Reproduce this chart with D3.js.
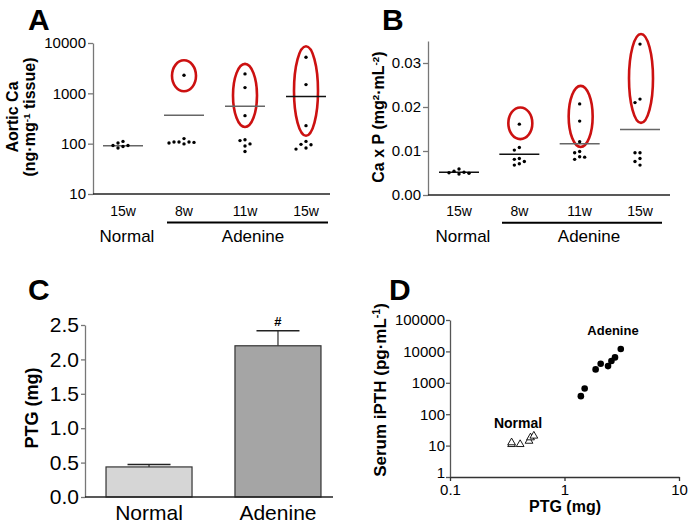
<!DOCTYPE html>
<html><head><meta charset="utf-8">
<script src="https://cdn.jsdelivr.net/npm/d3@7"></script>
<style>
body{margin:0;background:#fff;}
svg{display:block;font-family:Arial,"Liberation Sans",Helvetica,sans-serif;}
</style></head>
<body><svg id="c" width="688" height="526"></svg>
<script>
// ---------- DATA ----------
const groupsAB = ["N15","A8","A11","A15"];
const weekLabels = ["15w","8w","11w","15w"];
// Panel A: aortic Ca (ng/mg tissue)
const aorticN15 = [111,103,92,82,88,92];
const aorticA8  = [2280,126,108,103,99,106,108,108];
const aorticA11 = [2430,1300,360,115,120,99,90,70];
const aorticA15 = [5200,1490,228,111,95,97,78,82];
const aorticMean = [91,365,552,870];
const aorticCircleLow  = [null,1100,215,144];
const aorticCircleHigh = [null,4530,3850,8590];
const aorticTicks = [10,100,1000,10000];
// Panel B: Ca x P
const caxpN15 = [0.00539,0.00507,0.00477,0.00493,0.00516,0.00591];
const caxpA8  = [0.0161,0.0102,0.0108,0.0083,0.0081,0.0076,0.0068,0.0071];
const caxpA11 = [0.0207,0.0168,0.0121,0.0099,0.0096,0.0087,0.0081,0.0086];
const caxpA15 = [0.0343,0.0218,0.0210,0.0096,0.0096,0.0083,0.0076,0.0068];
const caxpMean = [0.00516,0.00925,0.01166,0.0149];
const caxpCircleLow  = [null,0.0127,0.0109,0.0164];
const caxpCircleHigh = [null,0.0199,0.0248,0.0366];
const caxpTicks = [0,0.01,0.02,0.03];
// Panel C: PTG weight
const ptgGroups = ["Normal","Adenine"];
const ptgMean = [0.437,2.198];
const ptgSem = [0.035,0.218];
const ptgTicks = [0,0.5,1.0,1.5,2.0,2.5];
// Panel D: PTG vs serum iPTH
const normalPTG  = [0.345,0.345,0.41,0.49,0.505,0.54];
const normalIPTH = [11,12.5,11,14,18,20.4];
const adeninePTG  = [1.39,1.50,1.87,2.07,2.40,2.57,2.76,3.10];
const adenineIPTH = [376,660,2670,4040,3400,4920,6450,11900];
const dXTicks = [0.1,1,10];
const dYTicks = [1,10,100,1000,10000,100000];

// ---------- HELPERS ----------
const svg = d3.select("#c");
const RED = "#cc1111";
function swarm(vals, yS, cx, step, minD){
  const order = vals.map((v,i)=>i).sort((a,b)=>vals[b]-vals[a]);
  const placed=[];
  order.forEach(i=>{
    const py=yS(vals[i]);
    for(let k=0;k<40;k++){
      const s = k===0?0:(k%2? -Math.ceil(k/2):Math.ceil(k/2));
      const px=cx+s*step;
      if(placed.every(p=>Math.hypot(p.x-px,p.y-py)>=minD)){placed.push({x:px,y:py});break;}
    }
  });
  return placed;
}
function styleAxis(g, col, fs){
  g.attr("font-family",null).attr("font-size",fs);
  g.select(".domain").attr("stroke",col).attr("stroke-width",1.3);
  g.selectAll(".tick line").attr("stroke",col).attr("stroke-width",1.3);
  g.selectAll(".tick text").attr("fill","#000");
}
function sup(t, parts){
  parts.forEach(p=>{
    const ts=t.append("tspan").text(p[0]);
    if(p[1]==="sup") ts.attr("font-size","0.62em").attr("dy","-0.55em");
    if(p[1]==="back") ts.attr("dy","0.34em");
  });
}

// ---------- PANEL A ----------
{
  const yA = d3.scaleLog().domain([10,10000]).range([194,43]);
  const xA = d3.scalePoint().domain(groupsAB).range([123,306]);
  const data = [aorticN15,aorticA8,aorticA11,aorticA15];
  const g = svg.append("g");
  const ax = g.append("g").attr("transform","translate(93,0)")
    .call(d3.axisLeft(yA).tickValues(aorticTicks).tickFormat(d3.format("d")).tickSize(5).tickPadding(2).tickSizeOuter(0));
  styleAxis(ax,"#777",15);
  g.append("line").attr("x1",93).attr("x2",330).attr("y1",yA(10)).attr("y2",yA(10)).attr("stroke","#222").attr("stroke-width",1.3);
  groupsAB.forEach((grp,i)=>{
    const cx=xA(grp);
    if(aorticCircleLow[i]!==null){
      const y1=yA(aorticCircleHigh[i]), y2=yA(aorticCircleLow[i]);
      g.append("ellipse").attr("cx",cx).attr("cy",(y1+y2)/2).attr("rx",12).attr("ry",(y2-y1)/2)
        .attr("fill","none").attr("stroke",RED).attr("stroke-width",2.6);
    }
    g.append("line").attr("x1",cx-20).attr("x2",cx+20).attr("y1",yA(aorticMean[i])).attr("y2",yA(aorticMean[i]))
      .attr("stroke",i===3?"#111":"#666").attr("stroke-width",1.5);
    g.selectAll(null).data(swarm(data[i],yA,cx,5,4.8)).enter().append("circle")
      .attr("cx",d=>d.x).attr("cy",d=>d.y).attr("r",1.7).attr("fill","#000");
    g.append("text").attr("x",cx).attr("y",216).attr("text-anchor","middle").attr("font-size",14).text(weekLabels[i]);
  });
  g.append("line").attr("x1",167).attr("x2",328).attr("y1",222.5).attr("y2",222.5).attr("stroke","#000").attr("stroke-width",2);
  g.append("text").attr("x",127).attr("y",242).attr("text-anchor","middle").attr("font-size",17).text("Normal");
  g.append("text").attr("x",253).attr("y",242).attr("text-anchor","middle").attr("font-size",17).text("Adenine");
  g.append("text").attr("x",28).attr("y",30).attr("font-size",30).attr("font-weight","bold").text("A");
  g.append("text").attr("transform","translate(18,117) rotate(-90)").attr("text-anchor","middle")
    .attr("font-size",16).attr("font-weight","bold").text("Aortic Ca");
  const l2=g.append("text").attr("transform","translate(35,117) rotate(-90)").attr("text-anchor","middle")
    .attr("font-size",16).attr("font-weight","bold");
  sup(l2,[["(ng·mg"],["-1","sup"],[" tissue)","back"]]);
}

// ---------- PANEL B ----------
{
  const yB = d3.scaleLinear().domain([0,0.035]).range([195,41]);
  const xB = d3.scalePoint().domain(groupsAB).range([459,640]);
  const data = [caxpN15,caxpA8,caxpA11,caxpA15];
  const g = svg.append("g");
  const ax = g.append("g").attr("transform","translate(428,0)")
    .call(d3.axisLeft(yB).tickValues(caxpTicks).tickFormat(d3.format(".2f")).tickSize(5).tickPadding(2).tickSizeOuter(0));
  styleAxis(ax,"#777",15);
  g.append("line").attr("x1",428).attr("x2",670).attr("y1",yB(0)).attr("y2",yB(0)).attr("stroke","#222").attr("stroke-width",1.3);
  groupsAB.forEach((grp,i)=>{
    const cx=xB(grp);
    if(caxpCircleLow[i]!==null){
      const y1=yB(caxpCircleHigh[i]), y2=yB(caxpCircleLow[i]);
      g.append("ellipse").attr("cx",cx+1).attr("cy",(y1+y2)/2).attr("rx",12).attr("ry",(y2-y1)/2)
        .attr("fill","none").attr("stroke",RED).attr("stroke-width",2.6);
    }
    g.append("line").attr("x1",cx-20).attr("x2",cx+20).attr("y1",yB(caxpMean[i])).attr("y2",yB(caxpMean[i]))
      .attr("stroke",i<2?"#111":"#666").attr("stroke-width",1.5);
    g.selectAll(null).data(swarm(data[i],yB,cx,5,4.8)).enter().append("circle")
      .attr("cx",d=>d.x).attr("cy",d=>d.y).attr("r",1.7).attr("fill","#000");
    g.append("text").attr("x",cx).attr("y",216).attr("text-anchor","middle").attr("font-size",14).text(weekLabels[i]);
  });
  g.append("line").attr("x1",502).attr("x2",662).attr("y1",222.7).attr("y2",222.7).attr("stroke","#000").attr("stroke-width",2);
  g.append("text").attr("x",463).attr("y",242).attr("text-anchor","middle").attr("font-size",17).text("Normal");
  g.append("text").attr("x",589).attr("y",242).attr("text-anchor","middle").attr("font-size",17).text("Adenine");
  g.append("text").attr("x",382).attr("y",30).attr("font-size",30).attr("font-weight","bold").text("B");
  const l=g.append("text").attr("transform","translate(384,117) rotate(-90)").attr("text-anchor","middle")
    .attr("font-size",16).attr("font-weight","bold");
  sup(l,[["Ca x P (mg"],["2","sup"],["·mL","back"],["-2","sup"],[")","back"]]);
}

// ---------- PANEL C ----------
{
  const yC = d3.scaleLinear().domain([0,2.5]).range([497,325]);
  const xC = d3.scaleBand().domain(ptgGroups).range([85,342]).paddingInner(0.333).paddingOuter(0.163);
  const g = svg.append("g");
  const fills=["#d6d6d6","#a5a5a5"];
  ptgGroups.forEach((grp,i)=>{
    const x=xC(grp), w=xC.bandwidth(), cx=x+w/2;
    const yt=yC(ptgMean[i]), ye=yC(ptgMean[i]+ptgSem[i]);
    g.append("line").attr("x1",cx).attr("x2",cx).attr("y1",yt).attr("y2",ye).attr("stroke","#555").attr("stroke-width",1.5);
    g.append("line").attr("x1",cx-21.5).attr("x2",cx+21.5).attr("y1",ye).attr("y2",ye).attr("stroke","#222").attr("stroke-width",1.5);
    g.append("rect").attr("x",x).attr("y",yt).attr("width",w).attr("height",yC(0)-yt)
      .attr("fill",fills[i]).attr("stroke","#333").attr("stroke-width",1.2);
    g.append("text").attr("x",cx).attr("y",520).attr("text-anchor","middle").attr("font-size",21).text(grp);
  });
  const cxA = xC("Adenine")+xC.bandwidth()/2;
  g.append("text").attr("x",cxA).attr("y",yC(ptgMean[1]+ptgSem[1])-5).attr("text-anchor","middle")
    .attr("font-size",13).attr("font-weight","bold").text("#");
  const ax = g.append("g").attr("transform","translate(85,0)")
    .call(d3.axisLeft(yC).tickValues(ptgTicks).tickFormat(d3.format(".1f")).tickSize(4).tickPadding(2).tickSizeOuter(0));
  styleAxis(ax,"#777",21);
  g.append("line").attr("x1",85).attr("x2",333).attr("y1",yC(0)).attr("y2",yC(0)).attr("stroke","#222").attr("stroke-width",1.3);
  g.append("text").attr("x",28).attr("y",300).attr("font-size",30).attr("font-weight","bold").text("C");
  g.append("text").attr("transform","translate(38,408) rotate(-90)").attr("text-anchor","middle")
    .attr("font-size",18).attr("font-weight","bold").text("PTG (mg)");
}

// ---------- PANEL D ----------
{
  const xD = d3.scaleLog().domain([0.1,10]).range([450,679]);
  const yD = d3.scaleLog().domain([1,100000]).range([477,320]);
  const g = svg.append("g");
  const axY = g.append("g").attr("transform","translate(450,0)")
    .call(d3.axisLeft(yD).tickValues(dYTicks).tickFormat(d3.format("d")).tickSize(4).tickPadding(1).tickSizeOuter(0));
  styleAxis(axY,"#555",15);
  axY.selectAll(".tick text").filter(d=>d===1).attr("dy","0em");
  const axX = g.append("g").attr("transform","translate(0,477)")
    .call(d3.axisBottom(xD).tickValues(dXTicks).tickFormat(d=>String(d)).tickSize(4).tickPadding(3).tickSizeOuter(0));
  styleAxis(axX,"#333",15);
  const tri = d3.symbol().type(d3.symbolTriangle).size(26);
  g.selectAll(null).data(normalPTG.map((v,i)=>[v,normalIPTH[i]])).enter().append("path")
    .attr("d",tri).attr("transform",d=>`translate(${xD(d[0])},${yD(d[1])})`)
    .attr("fill","#fff").attr("stroke","#000").attr("stroke-width",0.9);
  g.selectAll(null).data(adeninePTG.map((v,i)=>[v,adenineIPTH[i]])).enter().append("circle")
    .attr("cx",d=>xD(d[0])).attr("cy",d=>yD(d[1])).attr("r",3.3).attr("fill","#000");
  g.append("text").attr("x",613).attr("y",335).attr("text-anchor","middle").attr("font-size",13).attr("font-weight","bold").text("Adenine");
  g.append("text").attr("x",518).attr("y",428).attr("text-anchor","middle").attr("font-size",14).attr("font-weight","bold").text("Normal");
  g.append("text").attr("x",565).attr("y",512).attr("text-anchor","middle").attr("font-size",16).attr("font-weight","bold").text("PTG (mg)");
  g.append("text").attr("x",389).attr("y",300).attr("font-size",30).attr("font-weight","bold").text("D");
  const l=g.append("text").attr("transform","translate(386,390) rotate(-90)").attr("text-anchor","middle")
    .attr("font-size",17).attr("font-weight","bold");
  sup(l,[["Serum iPTH (pg·mL"],["-1","sup"],[")","back"]]);
}
</script></body></html>
